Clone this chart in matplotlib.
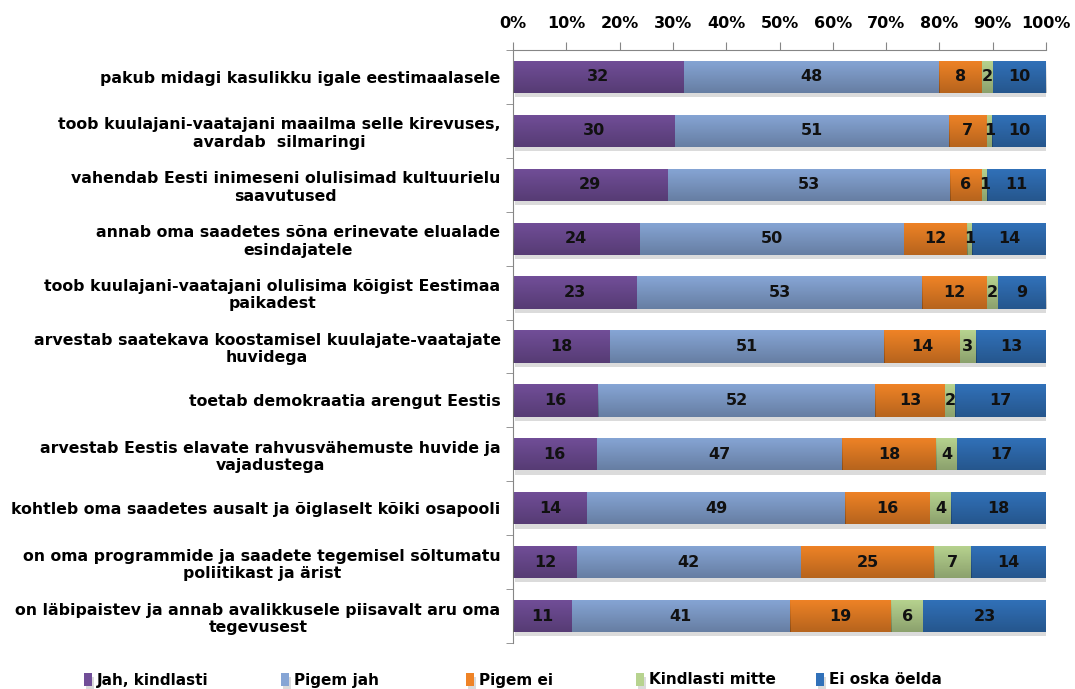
import numpy as np
import matplotlib
matplotlib.use("Agg")
import matplotlib.pyplot as plt
import matplotlib.patheffects as pe

categories = [
    "pakub midagi kasulikku igale eestimaalasele",
    "toob kuulajani-vaatajani maailma selle kirevuses,\navardab  silmaringi",
    "vahendab Eesti inimeseni olulisimad kultuurielu\nsaavutused",
    "annab oma saadetes sõna erinevate elualade\nesindajatele",
    "toob kuulajani-vaatajani olulisima kõigist Eestimaa\npaikadest",
    "arvestab saatekava koostamisel kuulajate-vaatajate\nhuvidega",
    "toetab demokraatia arengut Eestis",
    "arvestab Eestis elavate rahvusvähemuste huvide ja\nvajadustega",
    "kohtleb oma saadetes ausalt ja õiglaselt kõiki osapooli",
    "on oma programmide ja saadete tegemisel sõltumatu\npoliitikast ja ärist",
    "on läbipaistev ja annab avalikkusele piisavalt aru oma\ntegevusest",
]
series_names = ["Jah, kindlasti", "Pigem jah", "Pigem ei", "Kindlasti mitte", "Ei oska öelda"]
jah_kindlasti = [32, 30, 29, 24, 23, 18, 16, 16, 14, 12, 11]
pigem_jah = [48, 51, 53, 50, 53, 51, 52, 47, 49, 42, 41]
pigem_ei = [8, 7, 6, 12, 12, 14, 13, 18, 16, 25, 19]
kindlasti_mitte = [2, 1, 1, 1, 2, 3, 2, 4, 4, 7, 6]
ei_oska = [10, 10, 11, 14, 9, 13, 17, 17, 18, 14, 23]
tick_labels = ["0%", "10%", "20%", "30%", "40%", "50%", "60%", "70%", "80%", "90%", "100%"]
colors = ["#714E98", "#86A5D5", "#EF8326", "#B7D38F", "#3171B9"]

series = [jah_kindlasti, pigem_jah, pigem_ei, kindlasti_mitte, ei_oska]
raw = np.array(series, dtype=float)
totals = raw.sum(axis=0)
pct = raw / totals * 100.0

plt.rcParams['font.family'] = ['DejaVu Sans']
fig = plt.figure(figsize=(10.75, 6.89), dpi=100)
ax = fig.add_axes([513 / 1075, 1 - 643 / 689, (1046 - 513) / 1075, (643 - 50) / 689])

y = np.arange(len(categories))
left = np.zeros(len(categories))
handles = []
grad = np.zeros((64, 2, 4))
grad[..., 3] = np.linspace(0, 0.24, 64)[:, None]
for i, name in enumerate(series_names):
    bars = ax.barh(y, pct[i], left=left, height=0.6, color=colors[i], label=name,
                   zorder=2,
                   path_effects=[pe.SimplePatchShadow(offset=(1.5, -3), shadow_rgbFace='#9a9a9a', alpha=0.35),
                                 pe.Normal()])
    handles.append(bars)
    for b, v in zip(bars, raw[i]):
        x0, y0 = b.get_x(), b.get_y()
        w, h = b.get_width(), b.get_height()
        im = ax.imshow(grad, extent=(x0, x0 + w, y0 + h, y0), aspect='auto', zorder=3,
                       interpolation='bilinear')
        im.set_clip_path(b)
        ax.text(x0 + w / 2, y0 + h / 2, f"{int(v)}", ha='center', va='center',
                fontsize=11.5, fontweight='bold', color='#111111', zorder=4)
    left += pct[i]

ax.set_xlim(0, 100)
ax.set_ylim(len(categories) - 0.5, -0.5)
ax.set_aspect('auto')
ax.xaxis.tick_top()
ax.set_xticks(np.arange(0, 101, 10))
ax.set_xticklabels(tick_labels, fontsize=11.5, fontweight='bold')
ax.set_yticks(y)
ax.set_yticklabels(categories, fontsize=11.3, fontweight='bold', multialignment='center')
ax.set_yticks(np.arange(-0.5, len(categories), 1.0), minor=True)
ax.tick_params(axis='y', which='major', length=0, pad=9)
ax.tick_params(axis='y', which='minor', length=5, color='#868686', direction='out')
ax.tick_params(axis='x', length=6, color='#868686', direction='out', pad=8)
for s in ['right', 'bottom']:
    ax.spines[s].set_visible(False)
for s in ['left', 'top']:
    ax.spines[s].set_color('#868686')

fig.text(35 / 1075, 1 + 5 / 689, "öelda:", fontsize=12, fontweight='bold', va='center', ha='left')

legend_x = [84, 281, 466, 636, 816]
for h, name, lx in zip(handles, series_names, legend_x):
    fig.legend(handles=[h], labels=[name], loc='center left',
               bbox_to_anchor=(lx / 1075, 1 - 680 / 689), frameon=False,
               fontsize=11, prop={'weight': 'bold', 'size': 11},
               handlelength=0.55, handleheight=0.9, handletextpad=0.3,
               borderpad=0, borderaxespad=0)

fig.savefig("out.png", dpi=100)
